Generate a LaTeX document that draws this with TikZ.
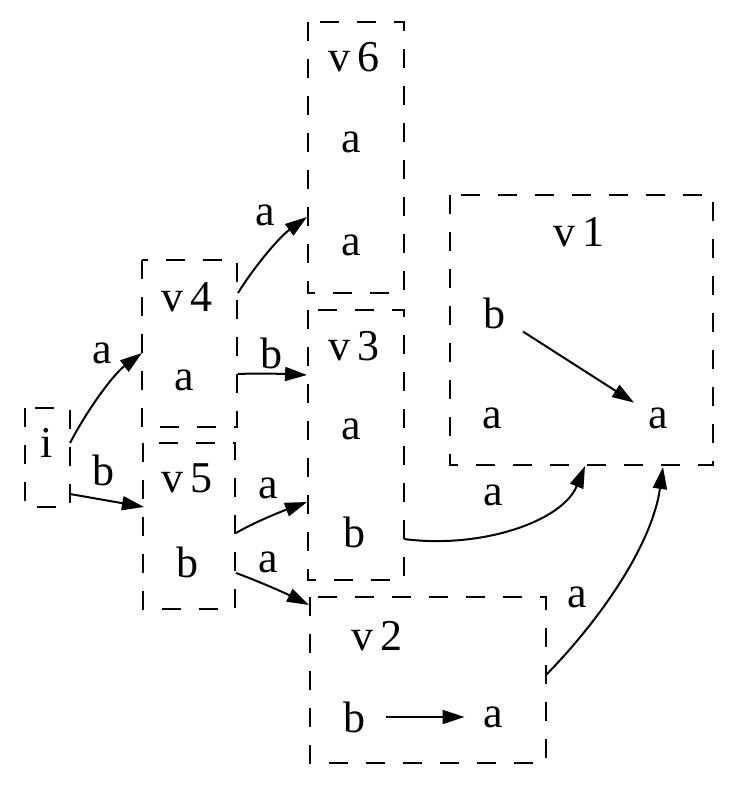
\documentclass[tikz,border=0pt]{standalone}
\usepackage{fontspec}
\setmainfont{Liberation Serif}
\usetikzlibrary{arrows.meta}
\begin{document}
\begin{tikzpicture}[x=0.5pt,y=-0.5pt,
  font=\fontsize{22}{26}\selectfont,
  cluster/.style={dash pattern=on 9.5pt off 9pt, line width=1pt},
  edge/.style={-{Triangle[length=11pt,width=7pt]}, line width=1pt},
  st/.style={circle, inner sep=0pt, minimum size=28pt},
  lbl/.style={inner sep=0pt}]
\useasboundingbox (0,0) rectangle (738,809);
% clusters
\draw[cluster] (25,408) rectangle (70,507);
\draw[cluster] (142,260) rectangle (237,427);
\draw[cluster] (143,443) rectangle (235,609);
\draw[cluster] (308,22) rectangle (404,293);
\draw[cluster] (308,310) rectangle (404,580);
\draw[cluster] (450,195) rectangle (713,465);
\draw[cluster] (310,597) rectangle (546,763);
\node[lbl] (l4) at (187,297) {v\,4};
\node[lbl] (l5) at (187,478) {v\,5};
\node[lbl] (l6) at (354,57) {v\,6};
\node[lbl] (l3) at (354,346) {v\,3};
\node[lbl] (l1) at (579,232) {v\,1};
\node[lbl] (l2) at (377,636) {v\,2};
% states
\node[lbl] (i) at (47,443) {i};
\node[st] (v4a) at (184,380) {a};
\node[st] (v5b) at (187,562) {b};
\node[st] (v6a1) at (351,142) {a};
\node[st] (v6a2) at (351,245) {a};
\node[st] (v3a) at (351,429) {a};
\node[st] (v3b) at (354,532) {b};
\node[st] (v1b) at (494,313) {b};
\node[st] (v1a1) at (492,418) {a};
\node[st] (v1a2) at (658,418) {a};
\node[st] (v2b) at (354,717) {b};
\node[st] (v2a) at (493,717) {a};
% ends on the cluster borders
\coordinate (i1) at (70,443);
\coordinate (i2) at (70,494);
\coordinate (in4) at (142,353);
\coordinate (in5) at (144,507);
\coordinate (out4a) at (238,293);
\coordinate (out4b) at (238,374);
\coordinate (in6) at (307,217);
\coordinate (in3a) at (307,375);
\coordinate (out5a) at (236,533);
\coordinate (out5b) at (236,573);
\coordinate (in3b) at (307,502);
\coordinate (in2) at (309,605);
\coordinate (out3) at (404,539);
\coordinate (out2) at (546,675);
\coordinate (in1a) at (585,466);
\coordinate (in1b) at (663,467);
% transitions
\draw[edge] (i1) .. controls (90,405) and (115,373) .. (in4);
\draw[edge] (i2) -- (in5);
\draw[edge] (out4a) .. controls (252,270) and (278,238) .. (in6);
\draw[edge] (out4b) .. controls (260,373) and (285,374) .. (in3a);
\draw[edge] (out5a) .. controls (255,522) and (280,512) .. (in3b);
\draw[edge] (out5b) .. controls (258,581) and (285,593) .. (in2);
\draw[edge] (out3) .. controls (480,549) and (562,522) .. (in1a);
\draw[edge] (out2) .. controls (600,620) and (652,545) .. (in1b);
\draw[edge, shorten <=3pt] (v1b) -- (v1a2);
\draw[edge, shorten <=2pt] (v2b) -- (v2a);
% transition labels
\node[lbl] (t1) at (102,353) {a};
\node[lbl] (t2) at (103,470) {b};
\node[lbl] (t3) at (265,215) {a};
\node[lbl] (t4) at (271,353) {b};
\node[lbl] (t5) at (268,488) {a};
\node[lbl] (t6) at (268,562) {a};
\node[lbl] (t7) at (493,495) {a};
\node[lbl] (t8) at (577,597) {a};
\end{tikzpicture}
\end{document}
